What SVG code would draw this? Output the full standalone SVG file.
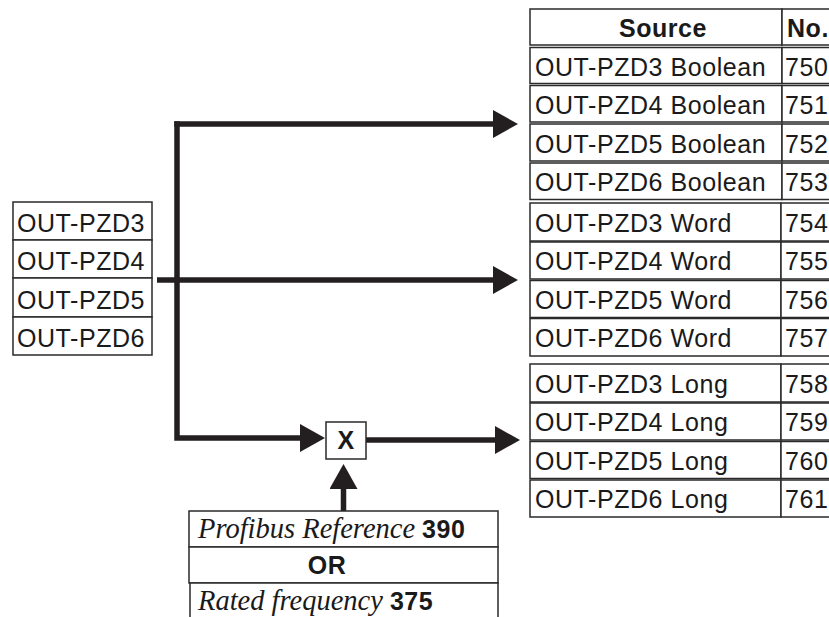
<svg xmlns="http://www.w3.org/2000/svg" width="829" height="617" viewBox="0 0 829 617">
<style>
.box{fill:#fff;stroke:#2a2a2a;stroke-width:1.5}
.t{font-family:"Liberation Sans",Arial,sans-serif;font-size:25px;letter-spacing:0.55px;fill:#1a1a1a}
.b{font-weight:bold}
.i{font-family:"Liberation Serif","Times New Roman",serif;font-style:italic;font-size:28.5px;letter-spacing:0;fill:#1a1a1a}
.ln{fill:none;stroke:#231f20;stroke-width:5.5;stroke-linejoin:miter}
</style>
<defs>
<marker id="ah" markerUnits="userSpaceOnUse" markerWidth="26" markerHeight="28" refX="1" refY="14" orient="auto">
<path d="M0,0 L25,14 L0,28 Z" fill="#231f20"/>
</marker>
</defs>
<rect width="829" height="617" fill="#fff"/>

<g id="connectors">
<path class="ln" d="M174.25,124 H494" marker-end="url(#ah)"/>
<path class="ln" d="M177,121.25 V438 H301" marker-end="url(#ah)"/>
<path class="ln" d="M157,280 H494" marker-end="url(#ah)"/>
<path class="ln" d="M366,440 H496" marker-end="url(#ah)"/>
<path class="ln" d="M343.5,511 V488" marker-end="url(#ah)"/>
</g>

<g id="inputs">
<g id="in3"><rect class="box" x="13" y="202" width="139" height="38"/><text class="t" x="17" y="232">OUT-PZD3</text></g>
<g id="in4"><rect class="box" x="13" y="240" width="139" height="38"/><text class="t" x="17" y="270">OUT-PZD4</text></g>
<g id="in5"><rect class="box" x="13" y="278" width="139" height="39"/><text class="t" x="17" y="309">OUT-PZD5</text></g>
<g id="in6"><rect class="box" x="13" y="317" width="139" height="38"/><text class="t" x="17" y="347">OUT-PZD6</text></g>
</g>

<g id="mult">
<rect class="box" x="326" y="422" width="40" height="37"/>
<text class="t b" x="346" y="449" text-anchor="middle" font-size="26" letter-spacing="0">X</text>
</g>

<g id="reference">
<rect class="box" x="189" y="511" width="309" height="36"/>
<text x="198" y="538"><tspan class="i">Profibus Reference</tspan><tspan class="t b" dx="7" letter-spacing="0">390</tspan></text>
<rect class="box" x="189" y="547" width="309" height="36"/>
<text class="t b" x="327" y="574" text-anchor="middle" letter-spacing="0">OR</text>
<rect class="box" x="190" y="583" width="308" height="40"/>
<text x="198" y="610"><tspan class="i">Rated frequency</tspan><tspan class="t b" dx="7" letter-spacing="0">375</tspan></text>
</g>

<g id="table">
<g id="header"><rect class="box" x="530" y="9" width="252" height="36"/><rect class="box" x="782" y="9" width="60" height="36"/>
<text class="t b" x="663" y="37" text-anchor="middle">Source</text><text class="t b" x="787" y="37">No.</text></g>

<g id="r750"><rect class="box" x="530" y="47.5" width="252" height="36"/><rect class="box" x="782" y="47.5" width="60" height="36"/><text class="t" x="535" y="76">OUT-PZD3 Boolean</text><text class="t" x="785" y="76">750</text></g>
<g id="r751"><rect class="box" x="530" y="85.5" width="252" height="36.5"/><rect class="box" x="782" y="85.5" width="60" height="36.5"/><text class="t" x="535" y="114">OUT-PZD4 Boolean</text><text class="t" x="785" y="114">751</text></g>
<g id="r752"><rect class="box" x="530" y="124" width="252" height="37"/><rect class="box" x="782" y="124" width="60" height="37"/><text class="t" x="535" y="153">OUT-PZD5 Boolean</text><text class="t" x="785" y="153">752</text></g>
<g id="r753"><rect class="box" x="530" y="163" width="252" height="36.5"/><rect class="box" x="782" y="163" width="60" height="36.5"/><text class="t" x="535" y="191">OUT-PZD6 Boolean</text><text class="t" x="785" y="191">753</text></g>

<g id="r754"><rect class="box" x="530" y="203" width="251" height="38"/><rect class="box" x="781" y="203" width="60" height="38"/><text class="t" x="535" y="232">OUT-PZD3 Word</text><text class="t" x="785" y="232">754</text></g>
<g id="r755"><rect class="box" x="530" y="242" width="251" height="37"/><rect class="box" x="781" y="242" width="60" height="37"/><text class="t" x="535" y="270">OUT-PZD4 Word</text><text class="t" x="785" y="270">755</text></g>
<g id="r756"><rect class="box" x="530" y="280.5" width="251" height="37"/><rect class="box" x="781" y="280.5" width="60" height="37"/><text class="t" x="535" y="309">OUT-PZD5 Word</text><text class="t" x="785" y="309">756</text></g>
<g id="r757"><rect class="box" x="530" y="318.5" width="251" height="37.5"/><rect class="box" x="781" y="318.5" width="60" height="37.5"/><text class="t" x="535" y="347">OUT-PZD6 Word</text><text class="t" x="785" y="347">757</text></g>

<g id="r758"><rect class="box" x="530" y="364" width="251" height="38"/><rect class="box" x="781" y="364" width="60" height="38"/><text class="t" x="535" y="393">OUT-PZD3 Long</text><text class="t" x="785" y="393">758</text></g>
<g id="r759"><rect class="box" x="530" y="403" width="251" height="37"/><rect class="box" x="781" y="403" width="60" height="37"/><text class="t" x="535" y="431">OUT-PZD4 Long</text><text class="t" x="785" y="431">759</text></g>
<g id="r760"><rect class="box" x="530" y="441.5" width="251" height="37"/><rect class="box" x="781" y="441.5" width="60" height="37"/><text class="t" x="535" y="470">OUT-PZD5 Long</text><text class="t" x="785" y="470">760</text></g>
<g id="r761"><rect class="box" x="530" y="480" width="251" height="37"/><rect class="box" x="781" y="480" width="60" height="37"/><text class="t" x="535" y="508">OUT-PZD6 Long</text><text class="t" x="785" y="508">761</text></g>
</g>
</svg>
